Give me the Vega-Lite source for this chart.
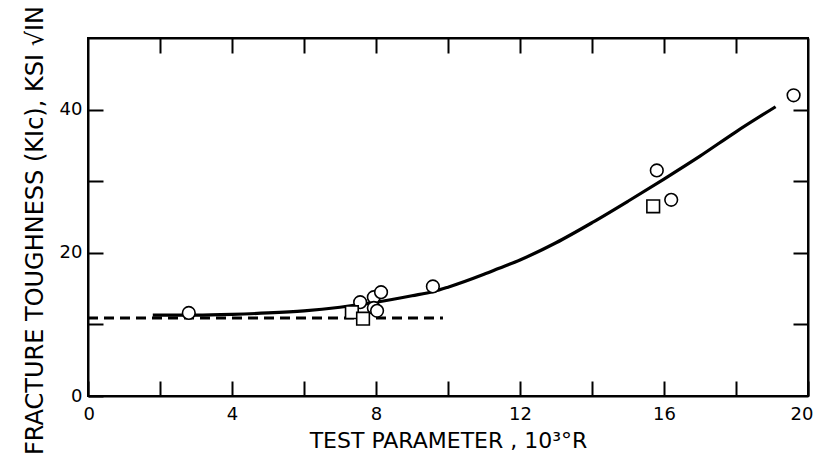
{
  "$schema": "https://vega.github.io/schema/vega-lite/v6.json",
  "width": 720,
  "height": 358,
  "autosize": {"type": "none"},
  "padding": {"left": 88, "top": 38, "right": 9, "bottom": 66},
  "background": "white",
  "config": {
    "view": {"stroke": "black", "strokeWidth": 2},
    "font": "DejaVu Sans",
    "axis": {
      "domainColor": "black", "domainWidth": 2, "tickColor": "black", "tickWidth": 2,
      "grid": false, "labelColor": "black", "titleColor": "black",
      "labelFont": "DejaVu Sans", "titleFont": "DejaVu Sans",
      "labelFontSize": 18, "titleFontSize": 22, "titleFontWeight": "normal"
    }
  },
  "datasets": {
    "curve": [
      {"x": 1.8, "y": 11.3}, {"x": 3, "y": 11.3}, {"x": 4, "y": 11.4}, {"x": 5, "y": 11.6},
      {"x": 6, "y": 11.9}, {"x": 7, "y": 12.4}, {"x": 8, "y": 13.1}, {"x": 9, "y": 14.0},
      {"x": 9.6, "y": 14.6}, {"x": 10, "y": 15.2}, {"x": 11, "y": 17.0}, {"x": 11.4, "y": 17.8},
      {"x": 12, "y": 19.0}, {"x": 13, "y": 21.4}, {"x": 14, "y": 24.2}, {"x": 15, "y": 27.2},
      {"x": 16, "y": 30.3}, {"x": 17, "y": 33.5}, {"x": 18, "y": 36.9}, {"x": 19.1, "y": 40.4}
    ],
    "dashed": [{"x": 0, "y": 10.9}, {"x": 9.86, "y": 10.9}],
    "points": [
      {"x": 2.8, "y": 11.6, "type": "circle"},
      {"x": 7.56, "y": 13.1, "type": "circle"},
      {"x": 7.94, "y": 13.8, "type": "circle"},
      {"x": 8.14, "y": 14.5, "type": "circle"},
      {"x": 7.94, "y": 12.3, "type": "circle"},
      {"x": 8.03, "y": 11.9, "type": "circle"},
      {"x": 9.58, "y": 15.3, "type": "circle"},
      {"x": 15.8, "y": 31.5, "type": "circle"},
      {"x": 16.2, "y": 27.4, "type": "circle"},
      {"x": 19.6, "y": 42.0, "type": "circle"},
      {"x": 7.33, "y": 11.7, "type": "square"},
      {"x": 7.64, "y": 10.8, "type": "square"},
      {"x": 15.7, "y": 26.5, "type": "square"}
    ]
  },
  "layer": [
    {
      "data": {"name": "curve"},
      "mark": {"type": "line", "color": "black", "strokeWidth": 3.2, "interpolate": "monotone"},
      "encoding": {
        "x": {"field": "x", "type": "quantitative", "scale": {"domain": [0, 20], "nice": false},
          "axis": {"orient": "bottom", "values": [0, 2, 4, 6, 8, 10, 12, 14, 16, 18, 20],
            "labelExpr": "datum.value % 4 == 0 ? datum.label : ''",
            "tickSize": -15, "labelPadding": 24, "labelFlush": true, "labelFlushOffset": 5,
            "title": "TEST PARAMETER , 10³°R", "titlePadding": 7}},
        "y": {"field": "y", "type": "quantitative", "scale": {"domain": [0, 50], "nice": false},
          "axis": {"orient": "left", "values": [0, 10, 20, 30, 40],
            "labelExpr": "datum.value % 20 == 0 ? datum.label : ''",
            "tickSize": -15, "labelPadding": 21, "labelFlush": false,
            "title": "FRACTURE TOUGHNESS (KIc), KSI √IN", "titleFontSize": 24, "titlePadding": 12, "titleY": 192}}
      }
    },
    {
      "data": {"name": "dashed"},
      "mark": {"type": "line", "color": "black", "strokeWidth": 3, "strokeDash": [10, 6]},
      "encoding": {
        "x": {"field": "x", "type": "quantitative",
          "axis": {"orient": "top", "values": [2, 4, 6, 8, 10, 12, 14, 16, 18], "labels": false, "tickSize": -15, "title": null}},
        "y": {"field": "y", "type": "quantitative",
          "axis": {"orient": "right", "values": [10, 20, 30, 40], "labels": false, "tickSize": -15, "title": null}}
      }
    },
    {
      "data": {"name": "points"},
      "mark": {"type": "point", "filled": false, "fill": "white", "fillOpacity": 1, "stroke": "black", "strokeWidth": 1.6, "opacity": 1},
      "encoding": {
        "x": {"field": "x", "type": "quantitative", "axis": null},
        "y": {"field": "y", "type": "quantitative", "axis": null},
        "shape": {"field": "type", "type": "nominal", "scale": {"domain": ["circle", "square"], "range": ["circle", "square"]}, "legend": null},
        "size": {"field": "type", "type": "nominal", "scale": {"domain": ["circle", "square"], "range": [160, 160]}, "legend": null}
      }
    }
  ],
  "resolve": {"axis": {"x": "independent", "y": "independent"}}
}
